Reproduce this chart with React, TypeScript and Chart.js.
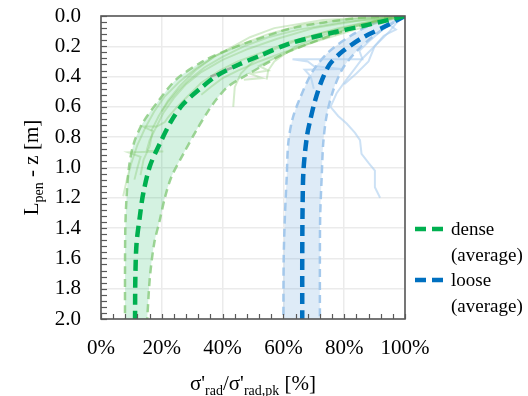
import React, { useEffect, useRef } from "react";
import { Chart, registerables } from "chart.js";

Chart.register(...registerables);

type Pt = [number, number]; // [percent of peak, depth below Lpen (m)]

// ---------- axis definitions ----------
const xMin = 0;
const xMax = 100;
const xStep = 20;
const yMin = 0;
const yMax = 2;
const yStep = 0.2;
const xMinorStep = 4;
const yMinorStep = 0.04;

// ---------- dense series ----------
const denseAverage: Pt[] = [
  [100, 0], [87.4, 0.06], [75.3, 0.114], [62.2, 0.18], [52.3, 0.262], [45.7, 0.317],
  [38.1, 0.394], [32.6, 0.48], [27.1, 0.58], [23.2, 0.69], [19.4, 0.84], [16.1, 0.99],
  [13.9, 1.17], [12.8, 1.32], [11.7, 1.5], [11.3, 1.72], [11.2, 2.0],
];
const denseLower: Pt[] = [
  [100, 0], [84, 0.015], [63, 0.08], [49, 0.17], [41, 0.23], [33.5, 0.3], [24.9, 0.416],
  [18.9, 0.56], [13.9, 0.7], [10.8, 0.84], [9.2, 1.0], [8.4, 1.2], [8.0, 1.4], [7.9, 1.7], [7.9, 2.0],
];
const denseUpper: Pt[] = [
  [100, 0], [93, 0.02], [82, 0.086], [71, 0.163], [60, 0.25], [53, 0.33], [47, 0.4],
  [41.5, 0.47], [38, 0.55], [35.5, 0.62], [31.5, 0.75], [27.1, 0.91], [23.2, 1.06],
  [21, 1.2], [19.3, 1.35], [17.5, 1.5], [16.1, 1.72], [15.2, 2.0],
];
const denseTest1: Pt[] = [
  [100, 0], [82, 0.02], [66, 0.06], [55, 0.12], [46, 0.19], [38, 0.26], [31, 0.35], [26, 0.43],
  [21, 0.53], [17.5, 0.63], [14.5, 0.74], [12, 0.85], [10, 0.97], [8.5, 1.08], [7.3, 1.19],
];
const denseTest2: Pt[] = [
  [100, 0], [85, 0.03], [70, 0.08], [58, 0.15], [48, 0.22], [40, 0.29], [33, 0.37], [28, 0.45],
  [24, 0.54], [20.5, 0.64], [18, 0.74], [16, 0.82], [15, 0.89], [20.5, 0.895], [9, 0.9],
  [13, 0.93], [12, 1.0], [11, 1.08],
];
const denseTest3: Pt[] = [
  [100, 0], [90, 0.03], [78, 0.08], [66, 0.15], [57, 0.22], [50, 0.3], [46, 0.38], [44, 0.47], [43.5, 0.6],
];
const denseTest4: Pt[] = [
  [100, 0], [88, 0.05], [74, 0.12], [64, 0.2], [57, 0.3], [55, 0.36], [54.5, 0.42],
];
const denseTest5: Pt[] = [
  [100, 0], [88, 0.01], [73, 0.026], [57, 0.08], [49, 0.14], [43.5, 0.2], [37, 0.27], [31, 0.36],
  [26, 0.46], [22, 0.56], [19, 0.66], [16.5, 0.76],
];
const denseTest6: Pt[] = [
  [100, 0], [86, 0.05], [73, 0.11], [62, 0.17], [53, 0.24], [45, 0.3], [39, 0.36], [33, 0.44],
  [29, 0.52], [25, 0.6], [22, 0.67], [21, 0.7], [18.4, 0.73], [13.8, 0.73], [17, 0.76],
  [16, 0.86], [14, 0.95], [13, 1.05],
];
const denseTest7: Pt[] = [
  [100, 0], [92, 0.04], [82, 0.1], [72, 0.16], [60, 0.24], [52, 0.3], [45, 0.36], [40, 0.41], [36, 0.47], [33, 0.52],
];
const denseTest8: Pt[] = [
  [100, 0], [93, 0.02], [85, 0.06], [75, 0.13], [66, 0.2], [58, 0.27], [52, 0.33], [55, 0.36],
  [49, 0.38], [53, 0.41], [47, 0.42],
];
const denseTest9: Pt[] = [
  [100, 0], [80, 0.04], [65, 0.09], [55, 0.14], [47, 0.2], [40, 0.27], [34, 0.34], [29, 0.42],
  [25, 0.5], [22, 0.57], [20, 0.63],
];
const denseTestGrey: Pt[] = [[46, 0.32], [42, 0.35], [38, 0.385], [36, 0.4]];

// ---------- loose series ----------
const looseAverage: Pt[] = [
  [100, 0], [92.9, 0.075], [86.3, 0.14], [79.7, 0.23], [75.3, 0.317], [72.6, 0.427],
  [70.4, 0.56], [68.8, 0.69], [67.7, 0.8], [66.6, 1.02], [66.3, 1.28], [66.2, 1.6], [66.2, 2.0],
];
const looseLower: Pt[] = [
  [100, 0], [90.7, 0.04], [83, 0.12], [75.3, 0.23], [69.8, 0.36], [65.5, 0.54], [63.0, 0.68],
  [61.6, 0.84], [61.1, 1.06], [60.5, 1.32], [60.1, 1.6], [60, 2.0],
];
const looseUpper: Pt[] = [
  [100, 0], [97.3, 0.03], [91.8, 0.1], [85.2, 0.21], [79.7, 0.34], [76.4, 0.49], [74.2, 0.66],
  [73.1, 0.84], [72.6, 1.06], [72.1, 1.32], [72, 1.6], [72, 2.0],
];
const looseTest1: Pt[] = [
  [100, 0], [97, 0.05], [95, 0.1], [92, 0.16], [89.5, 0.21], [86, 0.28], [83, 0.36], [80, 0.44],
  [77.5, 0.51], [75.5, 0.6], [78, 0.66], [80.8, 0.71], [83.5, 0.77], [85.2, 0.82], [85.7, 0.91],
  [88, 0.97], [90.1, 1.02], [90.1, 1.13], [91.8, 1.2],
];
const looseTest2: Pt[] = [
  [100, 0], [96, 0.04], [92, 0.1], [88, 0.17], [85, 0.23], [86, 0.285], [63, 0.285], [68, 0.3],
  [70, 0.33], [79, 0.35], [67, 0.355], [69, 0.4], [70, 0.48],
];
const looseTest3: Pt[] = [
  [100, 0], [98, 0.02], [95, 0.06], [97, 0.09], [93, 0.13], [90, 0.2], [88, 0.3], [84, 0.38], [80, 0.45],
];

// ---------- texts ----------
const legendEntries = [
  { lines: ["dense", "(average)"], color: "#00b050" },
  { lines: ["loose", "(average)"], color: "#0070c0" },
];
const xTitleParts = [
  { t: "σ'" }, { t: "rad", sub: true }, { t: "/σ'" }, { t: "rad,pk", sub: true }, { t: " [%]" },
];
const yTitleParts = [{ t: "L" }, { t: "pen", sub: true }, { t: " - z [m]" }];

// ---------- styling ----------
const FONT = '"Liberation Serif", "Times New Roman", serif';
const GREEN = "#00b050";
const BLUE = "#0070c0";
const GREEN_EDGE = "rgba(140,205,130,0.85)";
const BLUE_EDGE = "rgba(160,198,235,0.95)";
const GREEN_FILL = "rgba(0,176,80,0.17)";
const BLUE_FILL = "rgba(91,155,213,0.2)";
const GREEN_TEST = "rgba(120,195,95,0.32)";
const BLUE_TEST = "rgba(170,205,238,0.6)";
const GREY_TEST = "rgba(140,150,140,0.7)";
const AXIS = "#595959";

const toXY = (pts: Pt[]) => pts.map(([x, y]) => ({ x, y }));

const lineDs = (
  pts: Pt[], color: string, width: number, dash: number[], order: number, tension: number
) => ({
  data: toXY(pts),
  showLine: true,
  borderColor: color,
  backgroundColor: color,
  borderWidth: width,
  borderDash: dash,
  borderCapStyle: "butt",
  pointRadius: 0,
  pointHoverRadius: 0,
  fill: false,
  tension,
  order,
});

type Part = { t: string; sub?: boolean };

function drawRich(ctx: CanvasRenderingContext2D, parts: Part[], cx: number, baseline: number, big: number, small: number) {
  let w = 0;
  const widths = parts.map((p) => {
    ctx.font = `${p.sub ? small : big}px ${FONT}`;
    const m = ctx.measureText(p.t).width;
    w += m;
    return m;
  });
  let x = cx - w / 2;
  ctx.textAlign = "left";
  ctx.textBaseline = "alphabetic";
  parts.forEach((p, i) => {
    ctx.font = `${p.sub ? small : big}px ${FONT}`;
    ctx.fillText(p.t, x, baseline + (p.sub ? 5 : 0));
    x += widths[i];
  });
}

const bandPlugin = {
  id: "bands",
  beforeDatasetsDraw(chart: any) {
    const bands: [number, number, string][] = chart.options.plugins.bands.pairs;
    const ctx: CanvasRenderingContext2D = chart.ctx;
    const area = chart.chartArea;
    ctx.save();
    ctx.beginPath();
    ctx.rect(area.left, area.top, area.right - area.left, area.bottom - area.top);
    ctx.clip();
    for (const [a, b, color] of bands) {
      const la = chart.getDatasetMeta(a).dataset;
      const lb = chart.getDatasetMeta(b).dataset;
      la.updateControlPoints(area, "x");
      lb.updateControlPoints(area, "x");
      ctx.beginPath();
      la.path(ctx);
      for (const seg of lb.segments) lb.pathSegment(ctx, seg, { move: false, reverse: true });
      ctx.closePath();
      ctx.fillStyle = color;
      ctx.fill();
    }
    ctx.restore();
  },
};

const framePlugin = {
  id: "frame",
  afterDraw(chart: any) {
    const ctx: CanvasRenderingContext2D = chart.ctx;
    const a = chart.chartArea;
    const xs = chart.scales.x;
    const ys = chart.scales.y;
    ctx.save();
    ctx.strokeStyle = AXIS;
    ctx.lineWidth = 1.2;
    for (let v = xMin; v <= xMax + 1e-6; v += xMinorStep) {
      const px = Math.round(xs.getPixelForValue(v)) + 0.5;
      ctx.beginPath();
      ctx.moveTo(px, a.bottom);
      ctx.lineTo(px, a.bottom - 5);
      ctx.stroke();
    }
    for (let v = yMin; v <= yMax + 1e-6; v += yMinorStep) {
      const py = Math.round(ys.getPixelForValue(v)) + 0.5;
      ctx.beginPath();
      ctx.moveTo(a.left, py);
      ctx.lineTo(a.left + 6, py);
      ctx.stroke();
    }
    ctx.strokeStyle = AXIS;
    ctx.lineWidth = 1.6;
    ctx.strokeRect(a.left, a.top, a.right - a.left, a.bottom - a.top);

    ctx.fillStyle = "#000";
    drawRich(ctx, xTitleParts, (a.left + a.right) / 2, 390, 21, 14);
    ctx.save();
    ctx.translate(38, (a.top + a.bottom) / 2);
    ctx.rotate(-Math.PI / 2);
    drawRich(ctx, yTitleParts, 0, 0, 21, 14);
    ctx.restore();

    const lx = a.right + 10;
    let ly = 229;
    legendEntries.forEach((e) => {
      ctx.strokeStyle = e.color;
      ctx.lineWidth = 4.5;
      ctx.setLineDash([11, 6]);
      ctx.beginPath();
      ctx.moveTo(lx, ly);
      ctx.lineTo(lx + 28, ly);
      ctx.stroke();
      ctx.setLineDash([]);
      ctx.fillStyle = "#000";
      ctx.font = `19px ${FONT}`;
      ctx.textAlign = "left";
      ctx.textBaseline = "alphabetic";
      e.lines.forEach((t, i) => ctx.fillText(t, lx + 36, ly + 6 + i * 26));
      ly += 51;
    });
    ctx.restore();
  },
};

export default function App() {
  const ref = useRef<HTMLCanvasElement>(null);
  useEffect(() => {
    document.body.style.margin = "0";
    const canvas = ref.current;
    if (!canvas) return;
    const datasets: any[] = [
      lineDs(denseLower, GREEN_EDGE, 2.5, [8, 5], 8, 0.3),
      lineDs(denseUpper, GREEN_EDGE, 2.5, [8, 5], 8, 0.3),
      lineDs(looseLower, BLUE_EDGE, 2.5, [8, 5], 8, 0.3),
      lineDs(looseUpper, BLUE_EDGE, 2.5, [8, 5], 8, 0.3),
      ...[denseTest1, denseTest2, denseTest3, denseTest4, denseTest5, denseTest6, denseTest7, denseTest8, denseTest9].map(
        (d) => lineDs(d, GREEN_TEST, 2, [], 6, 0)
      ),
      lineDs(denseTestGrey, GREY_TEST, 2.5, [], 5, 0),
      ...[looseTest1, looseTest2, looseTest3].map((d) => lineDs(d, BLUE_TEST, 2, [], 6, 0)),
      lineDs(denseAverage, GREEN, 4.5, [11, 6], 0, 0.3),
      lineDs(looseAverage, BLUE, 4.5, [11, 6], 0, 0.3),
    ];
    const chart = new Chart(canvas, {
      type: "scatter",
      data: { datasets },
      options: {
        responsive: false,
        animation: false,
        events: [],
        layout: { padding: { top: 16, right: 123, left: 0, bottom: 0 } },
        plugins: {
          legend: { display: false },
          tooltip: { enabled: false },
          bands: { pairs: [[0, 1, GREEN_FILL], [2, 3, BLUE_FILL]] },
        } as any,
        scales: {
          x: {
            type: "linear",
            min: xMin,
            max: xMax,
            position: "bottom",
            ticks: {
              stepSize: xStep,
              padding: 17,
              color: "#000",
              maxRotation: 0,
              font: { family: FONT, size: 21 },
              callback: (v: any) => `${v}%`,
            },
            grid: { color: "#ebebeb", lineWidth: 1.5, drawTicks: false },
            border: { display: false },
            afterFit: (s: any) => {
              s.height = 77;
              s.paddingLeft = 0;
              s.paddingRight = 0;
            },
          },
          y: {
            type: "linear",
            min: yMin,
            max: yMax,
            reverse: true,
            ticks: {
              stepSize: yStep,
              padding: 20,
              color: "#000",
              font: { family: FONT, size: 21 },
              callback: (v: any) => Number(v).toFixed(1),
            },
            grid: { color: "#ebebeb", lineWidth: 1.5, drawTicks: false },
            border: { display: false },
            afterFit: (s: any) => {
              s.width = 101;
              s.paddingTop = 0;
              s.paddingBottom = 0;
            },
          },
        },
      } as any,
      plugins: [bandPlugin, framePlugin],
    });
    return () => chart.destroy();
  }, []);
  return (
    <div style={{ position: "absolute", left: 0, top: 0, width: 528, height: 396 }}>
      <canvas ref={ref} width={528} height={396} />
    </div>
  );
}
